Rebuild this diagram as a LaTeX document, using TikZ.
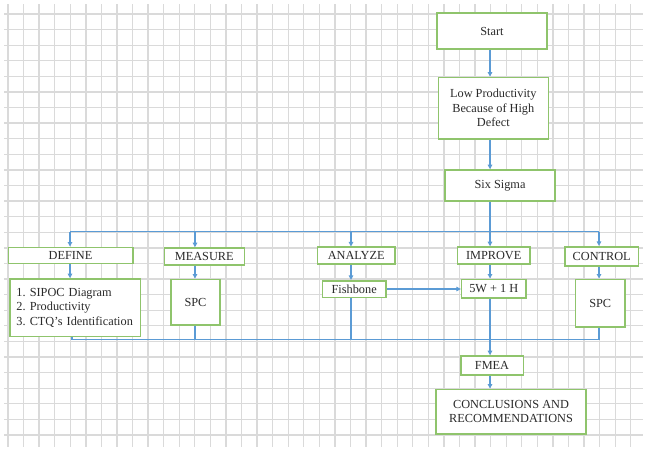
\documentclass[tikz,border=0pt]{standalone}
\usepackage{fontspec}
\setmainfont{Liberation Serif}
\usetikzlibrary{arrows.meta}
\definecolor{gridc}{HTML}{DADADA}
\definecolor{boxc}{HTML}{8FC46C}
\definecolor{linec}{HTML}{5B9BD5}
\definecolor{txtc}{HTML}{2A2A2A}
\frenchspacing
\begin{document}
\begin{tikzpicture}[x=1pt,y=-1pt,
  box/.style={draw=boxc,line width=1.6pt,fill=white,inner sep=0pt,align=center,text=txtc,font=\fontsize{12.3}{14.5}\selectfont},
  conn/.style={draw=linec,line width=1.3pt},
  arr/.style={conn,-{Triangle[length=4.5pt,width=4.5pt]}}]
\useasboundingbox (0,0) rectangle (647,450);
\fill[white] (0,0) rectangle (647,450);
% grid
\foreach \k in {0,...,40} \draw[gridc,line width=1.3pt] ({8+15.57*\k},4) -- ({8+15.57*\k},447);
\foreach \k in {0,...,27} \draw[gridc,line width=1.3pt] (4,{14+15.59*\k}) -- (643,{14+15.59*\k});
% nodes
\node[box,minimum width=110pt,minimum height=36pt] (start) at (492,31) {Start};
\node[box,minimum width=110pt,minimum height=61.7pt] (low) at (493.3,108.2) {Low Productivity\\Because of High\\Defect};
\node[box,minimum width=110pt,minimum height=31pt] (six) at (500,185.5) {Six Sigma};
\node[box,minimum width=124.4pt,minimum height=16pt] (define) at (70.5,255.3) {DEFINE};
\node[box,minimum width=80pt,minimum height=17pt] (measure) at (204.3,256.5) {MEASURE};
\node[box,minimum width=77.5pt,minimum height=16.7pt] (analyze) at (356.2,255.6) {ANALYZE};
\node[box,minimum width=72.7pt,minimum height=17pt] (improve) at (493.7,255.5) {IMPROVE};
\node[box,minimum width=73.3pt,minimum height=19pt] (control) at (601.7,256.2) {CONTROL};
\node[box,align=left,text width=117.7pt,inner xsep=6.5pt,minimum height=57.7pt] (list) at (75.3,307.8)
  {\begin{tabular}{@{}l@{}}1. SIPOC Diagram\\2. Productivity\\3. CTQ’s Identification\end{tabular}};
\node[box,minimum width=49pt,minimum height=45.7pt] (spcm) at (195.5,302.2) {SPC};
\node[box,minimum width=63.7pt,minimum height=16.6pt] (fish) at (354.2,289) {Fishbone};
\node[box,minimum width=64.3pt,minimum height=18.4pt] (five) at (493.8,288.5) {5W + 1 H};
\node[box,minimum width=49.7pt,minimum height=47.4pt] (spcc) at (600.2,303) {SPC};
\node[box,minimum width=62.6pt,minimum height=19pt] (fmea) at (492,365.5) {FMEA};
\node[box,minimum width=150pt,minimum height=44.7pt] (concl) at (511,411.7) {CONCLUSIONS AND\\RECOMMENDATIONS};
% column coordinates
\coordinate (cD) at (70,231.5);
\coordinate (cM) at (195,231.5);
\coordinate (cA) at (351,231.5);
\coordinate (cI) at (490,231.5);
\coordinate (cC) at (599,231.5);
\coordinate (bD) at (72,339.5);
\coordinate (bC) at (599,339.5);
% connectors
\draw[arr] (start.south -| cI) -- (low.north -| cI);
\draw[arr] (low.south -| cI) -- (six.north -| cI);
\draw[conn] (six.south -| cI) -- (cI);
\draw[conn] (cD) -- (cC);
\draw[arr] (cD) -- (define.north -| cD);
\draw[arr] (cM) -- (measure.north -| cM);
\draw[arr] (cA) -- (analyze.north -| cA);
\draw[arr] (cI) -- (improve.north -| cI);
\draw[arr] (cC) -- (control.north -| cC);
\draw[arr] (define.south -| cD) -- (list.north -| cD);
\draw[arr] (measure.south -| cM) -- (spcm.north -| cM);
\draw[arr] (analyze.south -| cA) -- (fish.north -| cA);
\draw[arr] (improve.south -| cI) -- (five.north -| cI);
\draw[arr] (control.south -| cC) -- (spcc.north -| cC);
\draw[arr] (fish.east) -- (fish.east -| five.west);
\draw[conn] (bD) -- (bC);
\draw[conn] (list.south -| bD) -- (bD);
\draw[conn] (spcm.south -| cM) -- (cM |- bD);
\draw[conn] (fish.south -| cA) -- (cA |- bD);
\draw[conn] (spcc.south -| cC) -- (cC |- bD);
\draw[arr] (five.south -| cI) -- (fmea.north -| cI);
\draw[arr] (fmea.south -| cI) -- (concl.north -| cI);
\end{tikzpicture}
\end{document}
